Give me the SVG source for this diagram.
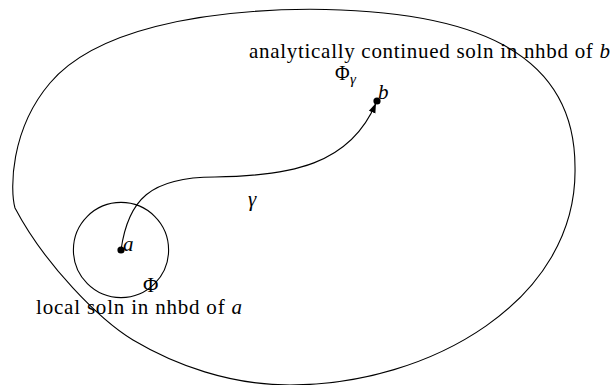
<svg xmlns="http://www.w3.org/2000/svg" width="613" height="385" viewBox="0 0 613 385">
<style>
.ln{fill:none;stroke:#000;stroke-width:1.1}
text{font-family:'Liberation Serif','Times New Roman',serif;font-size:21px;fill:#000}
.i{font-style:italic}
</style>
<defs>
<marker id="ah" markerUnits="userSpaceOnUse" markerWidth="12" markerHeight="10" viewBox="0 0 12 10" refX="10" refY="5" orient="auto">
<path d="M0,1.5 L10,5 L0,8.5 Z" fill="#000"/>
</marker>
</defs>
<g id="region">
<path class="ln" d="M15,208 C10,190 10,130 50,83 C95,30 200,10 310,9.3 C470,10 575,50 575,167 C578,300 430,385 290,385 C230,385 175,365 133,340 C100,320 45,265 15,208 Z"/>
</g>
<g id="nbhd-a">
<circle class="ln" cx="121" cy="250" r="47.6"/>
</g>
<g id="connectors">
<path class="ln" d="M121,250 C128,200 150,177 215,177 C290,176 350,165 376,103" marker-end="url(#ah)"/>
</g>
<g id="point-a">
<circle cx="121" cy="250" r="3.6" fill="#000"/>
<text class="i" x="123" y="251">a</text>
</g>
<g id="point-b">
<circle cx="377" cy="101" r="3.6" fill="#000"/>
<text class="i" x="378" y="99">b</text>
</g>
<g id="label-gamma">
<text class="i" x="248" y="206">γ</text>
</g>
<g id="label-phi">
<text x="143" y="292">Φ</text>
</g>
<g id="label-phi-gamma">
<text x="335" y="79.5" style="font-size:20px">Φ</text>
<text class="i" x="350" y="84" style="font-size:15px">γ</text>
</g>
<g id="label-local">
<text x="36" y="314" textLength="206" lengthAdjust="spacing">local soln in nhbd of <tspan class="i">a</tspan></text>
</g>
<g id="label-continued">
<text x="249" y="57.5" textLength="361" lengthAdjust="spacing">analytically continued soln in nhbd of <tspan class="i">b</tspan></text>
</g>
</svg>
